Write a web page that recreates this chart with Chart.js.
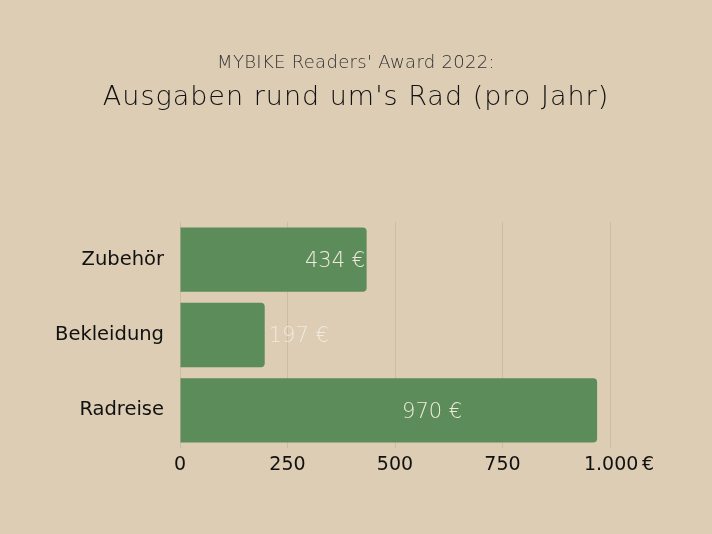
<!DOCTYPE html>
<html>
<head>
<meta charset="utf-8">
<script src="https://cdn.jsdelivr.net/npm/chart.js@4/dist/chart.umd.min.js"></script>
<style>
  html, body { margin: 0; padding: 0; background: #dccdb4; }
  #wrap { width: 712px; height: 534px; }
</style>
</head>
<body>
<div id="wrap"><canvas id="awardChart"></canvas></div>
<script>
// chart data
const categories = ['Zubehör', 'Bekleidung', 'Radreise'];
const spending = [434, 197, 970];
const xTicks = [0, 250, 500, 750, 1000];

const titleText = "MYBIKE Readers' Award 2022:";
const subtitleText = "Ausgaben rund um's Rad (pro Jahr)";

function formatNumber(v) {
    return v.toLocaleString('de-DE');
}

// header lines, drawn by hand so they can get letter spacing
const header = {
    id: 'header',
    afterDraw(chart) {
        const ctx = chart.ctx;
        const cx = chart.width / 2;
        ctx.save();
        ctx.textAlign = 'center';
        ctx.textBaseline = 'middle';
        ctx.fillStyle = '#333';
        ctx.font = '200 18px "DejaVu Sans"';
        ctx.letterSpacing = '0.3px';
        ctx.fillText(titleText, cx, 63);
        ctx.fillStyle = '#111';
        ctx.font = '200 27px "DejaVu Sans"';
        ctx.letterSpacing = '1px';
        ctx.fillText(subtitleText, cx, 98);
        ctx.restore();
    }
};

// value labels, drawn on top of the bars
const valueLabels = {
    id: 'valueLabels',
    afterDatasetsDraw(chart) {
        const ctx = chart.ctx;
        const meta = chart.getDatasetMeta(0);
        ctx.save();
        ctx.font = '200 21px "DejaVu Sans"';
        ctx.fillStyle = '#f0eadc';
        ctx.textBaseline = 'middle';
        meta.data.forEach((bar, i) => {
            const text = spending[i] + ' €';
            let x = bar.x;
            if (i === 0) {
                ctx.textAlign = 'right';
                x = bar.x - 1.5;
            } else if (i === 1) {
                ctx.textAlign = 'left';
                x = bar.x + 4;
            } else {
                ctx.textAlign = 'center';
                x = bar.x - 165;
            }
            ctx.fillText(text, x, bar.y + 2);
        });
        ctx.restore();
    }
};

const ctx = document.getElementById('awardChart').getContext('2d');
const awardChart = new Chart(ctx, {
    type: 'bar',
    data: {
        labels: categories,
        datasets: [{
            data: spending,
            backgroundColor: '#5c8c5a',
            borderRadius: 4,
            borderSkipped: 'start',
            barPercentage: 0.853,
            categoryPercentage: 1
        }]
    },
    options: {
        indexAxis: 'y',
        responsive: true,
        maintainAspectRatio: false,
        animation: false,
        layout: {
            padding: { top: 222, left: 0, right: 102, bottom: 0 }
        },
        scales: {
            x: {
                min: 0,
                max: 1000,
                afterBuildTicks(axis) {
                    axis.ticks = xTicks.map(v => ({ value: v }));
                },
                afterFit(scale) {
                    scale.height = 86;
                },
                ticks: {
                    padding: 6,
                    color: '#111',
                    font: { family: 'DejaVu Sans', size: 19 },
                    callback: function(value) {
                        if (value === 1000) return '   ' + formatNumber(value) + '\u2009€';
                        return formatNumber(value);
                    }
                },
                grid: {
                    color: '#cbbca2',
                    drawTicks: false
                },
                border: { display: false }
            },
            y: {
                afterFit(scale) {
                    scale.width = 180;
                },
                ticks: {
                    padding: 8,
                    color: '#111',
                    font: { family: 'DejaVu Sans', size: 19.5 }
                },
                grid: { display: false },
                border: { display: false }
            }
        },
        plugins: {
            legend: { display: false },
            tooltip: { enabled: false },
            title: { display: false }
        }
    },
    plugins: [valueLabels, header]
});
</script>
</body>
</html>
